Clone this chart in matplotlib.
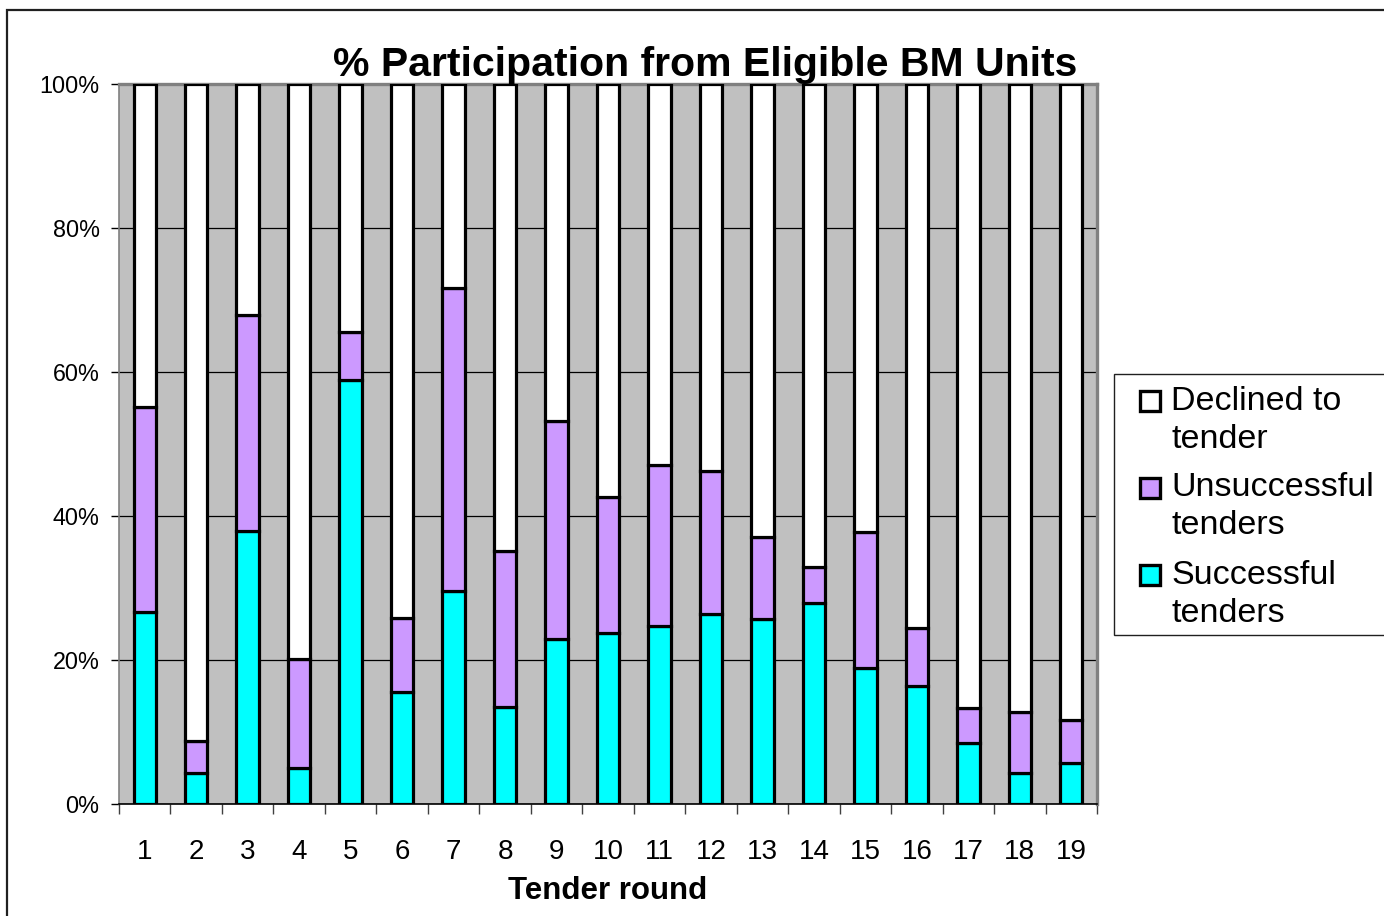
import matplotlib.pyplot as plt
import numpy as np
from matplotlib.patches import Rectangle

plt.rcParams['font.family'] = ['Liberation Sans', 'DejaVu Sans']

# Tender rounds and stacked percentages
rounds = [str(i) for i in range(1, 20)]
successful = [26.7, 4.3, 37.9, 5.0, 58.9, 15.6, 29.6, 13.5, 22.9, 23.75,
              24.7, 26.4, 25.7, 27.9, 18.9, 16.4, 8.5, 4.3, 5.7]
unsuccessful = [28.4, 4.45, 30.0, 15.1, 6.7, 10.2, 42.1, 21.6, 30.3, 18.85,
                22.4, 19.85, 11.4, 5.0, 18.9, 8.0, 4.8, 8.5, 6.0]
declined = [100 - s - u for s, u in zip(successful, unsuccessful)]

series_labels = ["Declined to\ntender", "Unsuccessful\ntenders", "Successful\ntenders"]
series_colors = ["#FFFFFF", "#CC99FF", "#00FFFF"]

W, H = 1384, 916
fig = plt.figure(figsize=(W / 100, H / 100), dpi=100)

# outer chart frame
fig.patches.append(Rectangle((7 / W, -0.2), 1.5, 1.2 - 10 / H, transform=fig.transFigure,
                             facecolor='none', edgecolor='#202020', lw=1.6))

ax = fig.add_axes([119 / W, 1 - 804 / H, 978 / W, 720 / H])
ax.set_facecolor('#C0C0C0')

x = np.arange(1, 20)
bw = 0.435
ax.bar(x, successful, bw, color=series_colors[2], edgecolor='black', lw=2.3, zorder=3)
ax.bar(x, unsuccessful, bw, bottom=successful, color=series_colors[1],
       edgecolor='black', lw=2.3, zorder=3)
bottom2 = [s + u for s, u in zip(successful, unsuccessful)]
ax.bar(x, declined, bw, bottom=bottom2, color=series_colors[0],
       edgecolor='black', lw=2.3, zorder=3)

ax.set_xlim(0.5, 19.5)
ax.set_ylim(0, 100)

ax.set_yticks(range(0, 101, 20))
ax.set_yticklabels([f"{v}%" for v in range(0, 101, 20)], fontsize=16.8)
ax.yaxis.grid(True, color='black', lw=0.9, zorder=0)
ax.set_axisbelow(True)
ax.tick_params(axis='y', direction='out', length=6, width=1, pad=8, colors='black')

ax.set_xticks(np.arange(0.5, 20, 1))
ax.set_xticklabels([])
ax.set_xticks(x, minor=True)
ax.set_xticklabels(rounds, minor=True, fontsize=20)
ax.tick_params(axis='x', which='major', direction='out', length=7, width=1, color='#404040')
ax.tick_params(axis='x', which='minor', length=0, pad=25)

for side in ['top', 'right']:
    ax.spines[side].set_color('#808080')
    ax.spines[side].set_linewidth(2.4)
ax.spines['left'].set_color('#808080')
ax.spines['left'].set_linewidth(1.2)
ax.spines['bottom'].set_color('black')
ax.spines['bottom'].set_linewidth(1.2)

fig.text(705 / W, 1 - 76 / H, "% Participation from Eligible BM Units",
         ha='center', va='baseline', fontsize=29.5, fontweight='bold')
fig.text(608 / W, 1 - 891 / H, "Tender round", ha='center', va='center',
         fontsize=22.5, fontweight='bold')

# legend box (clipped at right edge as in the original)
fig.patches.append(Rectangle((1114 / W, 1 - 635 / H), 300 / W, 261 / H,
                             transform=fig.transFigure, facecolor='white',
                             edgecolor='#202020', lw=1))
for i, (lab, col) in enumerate(zip(series_labels, series_colors)):
    yc = 401 + 87 * i
    fig.patches.append(Rectangle((1140 / W, 1 - (yc + 10) / H), 20 / W, 20 / H,
                                 transform=fig.transFigure, facecolor=col,
                                 edgecolor='black', lw=2.4))
    for k, line in enumerate(lab.split('\n')):
        fig.text(1171 / W, 1 - (yc + 38 * k) / H, line, ha='left', va='center',
                 fontsize=24.5)

fig.savefig('out.png', dpi=100)
